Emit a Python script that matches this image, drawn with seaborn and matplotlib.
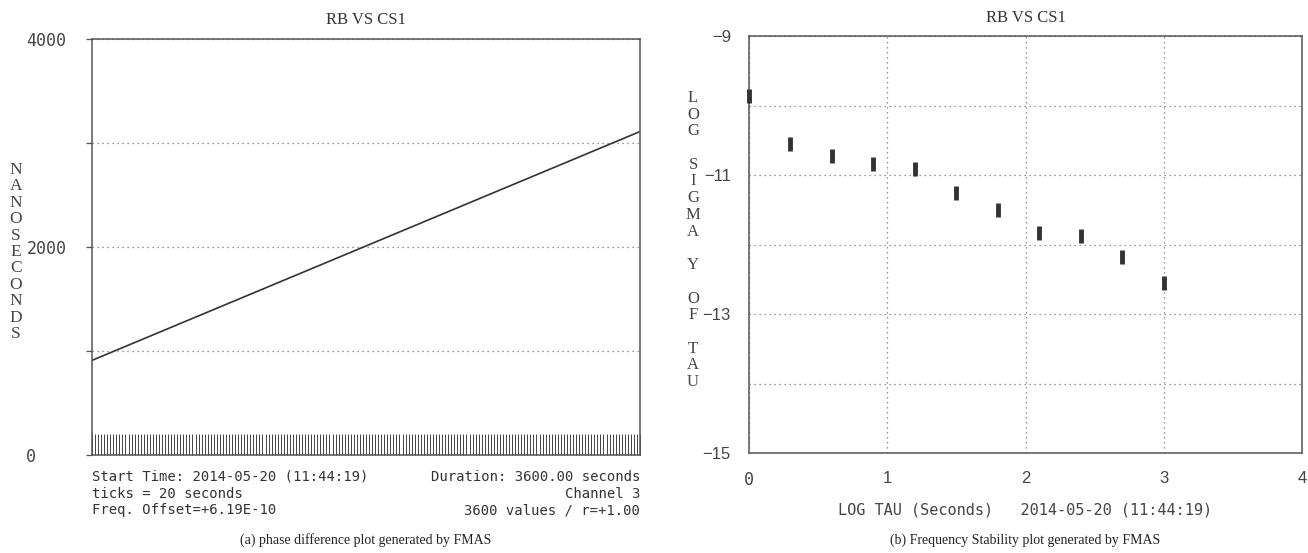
import numpy as np
import pandas as pd
import seaborn as sns
import matplotlib.pyplot as plt

# (a) phase difference
phase_time = [0, 3600]
phase_ns = [910, 3110]
tick_step = 20
phase_yticks = [0, 1000, 2000, 3000, 4000]
phase_ylabels = ['0', '', '2000', '', '4000']
info_left = ['Start Time: 2014-05-20 (11:44:19)', 'ticks = 20 seconds', 'Freq. Offset=+6.19E-10']
info_right = ['Duration: 3600.00 seconds', 'Channel 3', '3600 values / r=+1.00']

# (b) frequency stability
log_tau = [0, 0.3, 0.6, 0.9, 1.2, 1.5, 1.8, 2.1, 2.4, 2.7, 3.0]
log_sigma = [-9.87, -10.56, -10.72, -10.84, -10.91, -11.26, -11.51, -11.83, -11.88, -12.18, -12.55]
stab_xticks = [0, 1, 2, 3, 4]
stab_yticks = [-15, -14, -13, -12, -11, -10, -9]
stab_ylabels = ['\u221215', '', '\u221213', '', '\u221211', '', '\u22129']

sns.set_style('white')
plt.rcParams['font.family'] = ['DejaVu Sans Mono']
mono = 'DejaVu Sans Mono'
serif = 'Liberation Serif'
ink = '#333333'
spine = '#555555'
dots = (0, (1, 3))

W, H = 1308, 553
fig = plt.figure(figsize=(W / 100, H / 100), dpi=100)


def box(l, t, r, b):
    return [l / W, 1 - b / H, (r - l) / W, (b - t) / H]


ax1 = fig.add_axes(box(92, 39, 640, 455))
ax2 = fig.add_axes(box(749, 36, 1302, 453))

# ---- left panel
phase_df = pd.DataFrame({'t': phase_time, 'ns': phase_ns})
sns.lineplot(data=phase_df, x='t', y='ns', color=ink, linewidth=1.2, ax=ax1)
ax1.set_xlim(0, 3600)
ax1.set_ylim(0, 4000)
ax1.set_xlabel('')
ax1.set_ylabel('')
ax1.set_xticks(np.arange(0, 3600 + 1, tick_step))
ax1.tick_params(axis='x', direction='in', length=15, width=0.7, color='#444444',
                labelbottom=False, bottom=True)
ax1.set_yticks(phase_yticks)
ax1.set_yticklabels(phase_ylabels, fontfamily=mono, fontsize=12, color='#444444')
for lbl in ax1.get_yticklabels():
    lbl.set_horizontalalignment('left')
ax1.tick_params(axis='y', direction='out', length=4.3, width=0.9, color=spine, pad=43, left=True)
ax1.yaxis.grid(True, linestyle=dots, color='#777777', linewidth=0.9)
ax1.xaxis.grid(False)
ax1.set_title('RB VS CS1', family=serif, fontsize=12, pad=11, color='#333333')
for s in ax1.spines.values():
    s.set_color(spine)
    s.set_linewidth(1.1)

fig.text(16 / W, 1 - 252 / H, '\n'.join('NANOSECONDS'), ha='center', va='center',
         family=serif, fontsize=12.5, linespacing=1.04, color='#444444')

for i, (a, b) in enumerate(zip(info_left, info_right)):
    y = 1 - (477 + i * 16.5) / H
    fig.text(92 / W, y, a, ha='left', va='center', family=mono, fontsize=10, color='#333333')
    fig.text(640 / W, y, b, ha='right', va='center', family=mono, fontsize=10, color='#333333')

fig.text(366 / W, 1 - 540 / H, '(a) phase difference plot generated by FMAS',
         ha='center', va='center', family=serif, fontsize=10, color='#222222')

# ---- right panel
stab_df = pd.DataFrame({'log_tau': log_tau, 'log_sigma': log_sigma})
sns.scatterplot(data=stab_df, x='log_tau', y='log_sigma', marker='|', s=90,
                linewidth=3.5, color=ink, ax=ax2, clip_on=False, zorder=5)
ax2.set_xlim(0, 4)
ax2.set_ylim(-15, -9)
ax2.set_xticks(stab_xticks)
ax2.set_xticklabels([str(v) for v in stab_xticks], fontsize=12, color='#444444')
for lbl in ax2.get_xticklabels():
    lbl.set_fontfamily(mono if lbl.get_text() == '0' else 'Liberation Sans')
ax2.set_yticks(stab_yticks)
ax2.set_yticklabels(stab_ylabels, family='Liberation Sans', fontsize=12, color='#444444')
ax2.tick_params(axis='both', length=0, pad=13)
ax2.grid(True, linestyle=dots, color='#777777', linewidth=0.9)
ax2.set_xlabel('LOG TAU (Seconds)   2014-05-20 (11:44:19)', family=mono, fontsize=11,
               color='#444444', labelpad=10)
ax2.set_ylabel('')
ax2.set_title('RB VS CS1', family=serif, fontsize=12, pad=10, color='#333333')
for s in ax2.spines.values():
    s.set_color(spine)
    s.set_linewidth(1.1)

fig.text(693 / W, 1 - 240 / H, '\n'.join('LOG SIGMA Y OF TAU'), ha='center', va='center',
         family=serif, fontsize=12, linespacing=1.06, color='#444444')

fig.text(1025 / W, 1 - 540 / H, '(b) Frequency Stability plot generated by FMAS',
         ha='center', va='center', family=serif, fontsize=10, color='#222222')

fig.savefig('out.png', dpi=100)
